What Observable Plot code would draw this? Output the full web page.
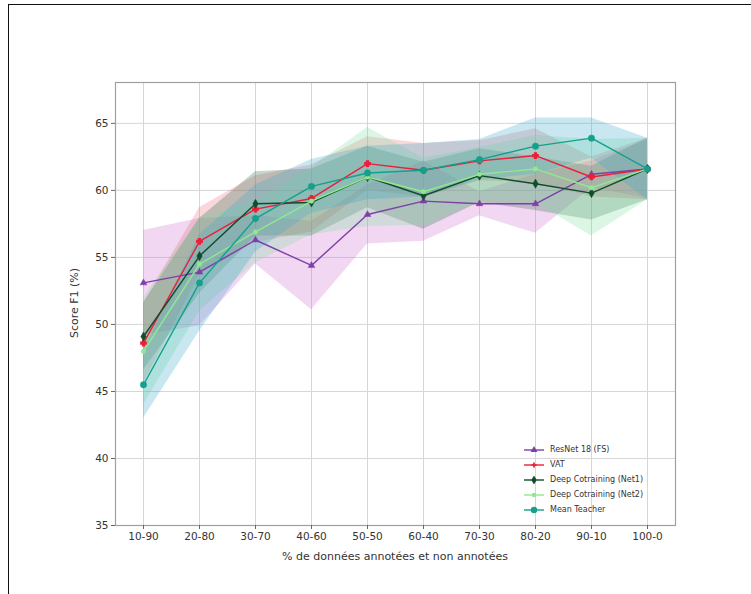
<!DOCTYPE html>
<html>
<head>
<meta charset="utf-8">
<script src="https://cdn.jsdelivr.net/npm/d3@7"></script>
<script src="https://cdn.jsdelivr.net/npm/@observablehq/plot@0.6"></script>
<style>
  html, body { margin: 0; padding: 0; background: #fff; }
  #wrap { position: relative; width: 751px; height: 594px; overflow: hidden; font-family: "DejaVu Sans", sans-serif; }
  #border { position: absolute; left: 8px; top: 4px; width: 800px; height: 700px; border-left: 1.5px solid #111; border-top: 1.5px solid #111; box-sizing: border-box; pointer-events: none; }
  #legend { position: absolute; left: 522px; top: 442px; font-size: 8px; color: #333; line-height: 15px; }
  #legend div { display: flex; align-items: center; height: 15px; }
  #legend svg { margin-right: 4px; }
</style>
</head>
<body>
<div id="wrap"><div id="border"></div><div id="chart"></div><div id="legend"></div></div>
<script>
const categories = ["10-90","20-80","30-70","40-60","50-50","60-40","70-30","80-20","90-10","100-0"];
const seriesNames = ["ResNet 18 (FS)","VAT","Deep Cotraining (Net1)","Deep Cotraining (Net2)","Mean Teacher"];
const resnet = [53.1, 53.9, 56.3, 54.4, 58.2, 59.2, 59.0, 59.0, 61.2, 61.6];
const vat    = [48.6, 56.2, 58.6, 59.4, 62.0, 61.5, 62.2, 62.6, 61.0, 61.6];
const net1   = [49.1, 55.1, 59.0, 59.1, 61.0, 59.6, 61.1, 60.5, 59.8, 61.6];
const net2   = [48.0, 54.5, 56.9, 59.2, 61.0, 59.9, 61.2, 61.6, 60.2, 61.6];
const mt     = [45.5, 53.1, 57.9, 60.3, 61.3, 61.5, 62.3, 63.3, 63.9, 61.6];
const resnetStd = [3.9, 4.0, 1.8, 3.3, 2.2, 3.0, 0.9, 2.2, 1.0, 2.2];
const vatStd    = [3.0, 2.5, 2.5, 2.5, 2.0, 2.0, 1.5, 2.0, 1.5, 2.3];
const net1Std   = [2.5, 2.8, 2.4, 2.5, 2.3, 2.5, 2.0, 2.0, 2.0, 2.3];
const net2Std   = [4.0, 3.5, 2.3, 2.5, 3.7, 2.5, 2.0, 2.5, 3.6, 2.3];
const mtStd     = [2.5, 3.6, 2.5, 2.0, 2.0, 2.0, 1.5, 2.1, 1.5, 2.3];
const yTicks = [35, 40, 45, 50, 55, 60, 65];

const lineColors = ["#7e3fa8", "#e8203a", "#0f4d2c", "#90e890", "#14a08c"];
const fillColors = ["#d070d0", "#e8707a", "#2f6a50", "#80e0a0", "#3aa8c8"];
const symbols = ["triangle", "cross", "diamond", "circle", "circle"];
const radii = [2.5, 2.2, 2.8, 2.3, 3.2];
const values = [resnet, vat, net1, net2, mt];
const stds = [resnetStd, vatStd, net1Std, net2Std, mtStd];

const rows = [];
seriesNames.forEach((s, i) => {
  categories.forEach((c, j) => {
    rows.push({series: s, idx: i, cat: c, v: values[i][j], lo: values[i][j] - stds[i][j], hi: values[i][j] + stds[i][j]});
  });
});

const marks = [
  Plot.gridX(categories, {stroke: "#d6d6d6", strokeOpacity: 1, strokeWidth: 1}),
  Plot.gridY(yTicks, {stroke: "#d6d6d6", strokeOpacity: 1, strokeWidth: 1}),
];
seriesNames.forEach((s, i) => {
  const d = rows.filter(r => r.idx === i);
  marks.push(Plot.areaY(d, {x: "cat", y1: "lo", y2: "hi", fill: fillColors[i], fillOpacity: 0.28}));
});
seriesNames.forEach((s, i) => {
  const d = rows.filter(r => r.idx === i);
  marks.push(Plot.lineY(d, {x: "cat", y: "v", stroke: lineColors[i], strokeWidth: 1.4}));
  marks.push(Plot.dot(d, {x: "cat", y: "v", fill: lineColors[i], stroke: lineColors[i], strokeWidth: symbols[i] === "cross" ? 1.5 : 0.5, symbol: symbols[i], r: radii[i]}));
});
marks.push(Plot.frame({stroke: "#a0a0a0", strokeWidth: 1.2}));
marks.push(Plot.axisX(categories, {tickSize: 4, tickPadding: 3, stroke: "#666", fill: "#333", fontSize: 10.5, label: null}));
marks.push(Plot.axisY(yTicks, {tickSize: 4, tickPadding: 3, stroke: "#666", fill: "#333", fontSize: 10.5, label: null}));

const chart = Plot.plot({
  width: 751,
  height: 594,
  marginLeft: 115,
  marginRight: 76,
  marginTop: 82,
  marginBottom: 69,
  style: {fontFamily: "DejaVu Sans, sans-serif", background: "transparent"},
  x: {type: "point", domain: categories, padding: 0.46},
  y: {domain: [35, 68.05]},
  marks
});
document.getElementById("chart").appendChild(chart);

// axis titles as real text
const svg = d3.select(chart);
svg.append("text").attr("x", 395).attr("y", 560).attr("text-anchor", "middle")
  .attr("font-size", 11).attr("fill", "#333").attr("font-family", "DejaVu Sans, sans-serif")
  .text("% de données annotées et non annotées");
svg.append("text").attr("transform", "translate(78,303) rotate(-90)").attr("text-anchor", "middle")
  .attr("font-size", 11).attr("fill", "#333").attr("font-family", "DejaVu Sans, sans-serif")
  .text("Score F1 (%)");

// legend
const leg = d3.select("#legend");
seriesNames.forEach((s, i) => {
  const row = leg.append("div");
  const sv = row.append("svg").attr("width", 24).attr("height", 10);
  sv.append("line").attr("x1", 2).attr("x2", 22).attr("y1", 5).attr("y2", 5).attr("stroke", lineColors[i]).attr("stroke-width", 1.4);
  const sym = d3.symbol().type({triangle: d3.symbolTriangle, cross: d3.symbolCross, diamond: d3.symbolDiamond, circle: d3.symbolCircle}[symbols[i]]).size(Math.PI * radii[i] * radii[i]);
  sv.append("path").attr("d", sym()).attr("transform", "translate(12,5)").attr("fill", lineColors[i]);
  row.append("span").text(s);
});
</script>
</body>
</html>
